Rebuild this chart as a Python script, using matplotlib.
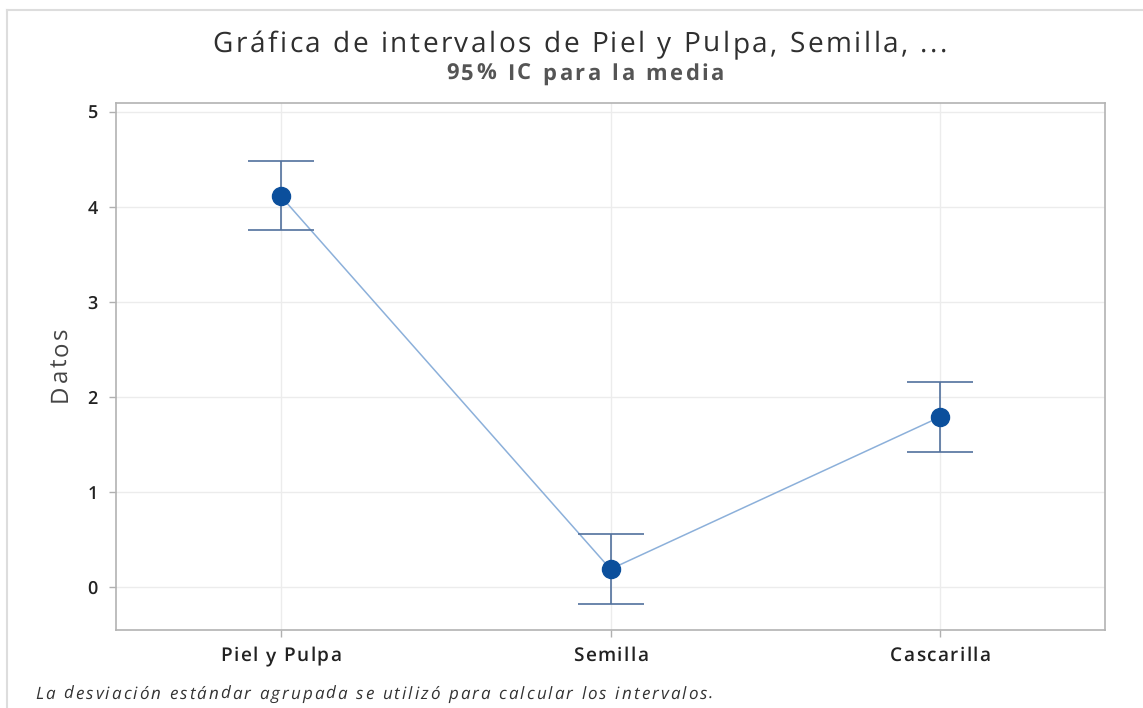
import matplotlib
matplotlib.use("Agg")
import matplotlib.pyplot as plt
from matplotlib.lines import Line2D
from matplotlib.font_manager import FontProperties, findfont, get_font
from matplotlib import ft2font

plt.rcParams['font.family'] = ['Open Sans', 'DejaVu Sans']
plt.rcParams['text.hinting'] = 'no_hinting'
plt.rcParams['text.hinting_factor'] = 1

categories = ["Piel y Pulpa", "Semilla", "Cascarilla"]
means = [4.11, 0.19, 1.79]
ci_low = [3.75, -0.18, 1.42]
ci_high = [4.48, 0.56, 2.16]
yticks = [0, 1, 2, 3, 4, 5]

title = "Gráfica de intervalos de Piel y Pulpa, Semilla, ..."
subtitle = "95% IC para la media"
ylabel = "Datos"
footnote = "La desviación estándar agrupada se utilizó para calcular los intervalos."

W, H, DPI = 1143, 708, 100
fig = plt.figure(figsize=(W / DPI, H / DPI), dpi=DPI)
ax = fig.add_axes([116 / W, 1 - 630 / H, (1105 - 116) / W, (630 - 103) / H])

try:
    NO_HINT = ft2font.LoadFlags.NO_HINTING
except AttributeError:
    NO_HINT = ft2font.LOAD_NO_HINTING


def advances(s, fp):
    font = get_font(findfont(fp))
    font.set_size(fp.get_size_in_points(), DPI)
    return [font.load_char(ord(c), flags=NO_HINT).linearHoriAdvance / 65536 for c in s]


def spaced_text(x, y, s, fp, color, track, ha="center", vertical=False):
    """Draw text with extra letter spacing; x, y in pixels from the top-left
    (baseline position), advancing right, or upward when vertical."""
    adv = advances(s, fp)
    total = sum(adv) + track * (len(s) - 1)
    start = (x if not vertical else y)
    if ha == "center":
        start = start - total / 2 if not vertical else start + total / 2
    pos = start
    for c, a in zip(s, adv):
        if c != " ":
            if vertical:
                fig.text(x / W, 1 - pos / H, c, fontproperties=fp, color=color,
                         ha="left", va="baseline", rotation=90, rotation_mode="anchor")
            else:
                fig.text(pos / W, 1 - y / H, c, fontproperties=fp, color=color,
                         ha="left", va="baseline")
        pos = pos + (a + track) if not vertical else pos - (a + track)


x = list(range(len(categories)))
err_lo = [m - l for m, l in zip(means, ci_low)]
err_hi = [h - m for m, h in zip(means, ci_high)]

ax.plot(x, means, color="#8cb0da", lw=1.1, zorder=2)
ax.errorbar(x, means, yerr=[err_lo, err_hi], fmt="none", ecolor="#52719d",
            elinewidth=1.2, capsize=23.5, capthick=1.2, zorder=3)
ax.plot(x, means, "o", color="#0b4f9c", ms=13, zorder=4)

ax.set_xlim(-0.5, 2.5)
ax.set_ylim(-0.45, 5.09)
ax.set_xticks(x)
ax.set_xticklabels([])
ax.set_yticks(yticks)
ax.set_yticklabels([str(t) for t in yticks], fontsize=13, fontweight="semibold", color="#222222")
ax.tick_params(axis="both", color="#b0b0b0", length=5, width=1)
ax.tick_params(axis="y", pad=8)
ax.grid(True, color="#ececec", lw=1)
ax.set_axisbelow(True)
for s in ax.spines.values():
    s.set_color("#b3b3b3")
    s.set_linewidth(1.2)

# category labels with letter spacing, placed through the data transform
fp_tick = FontProperties(family=["Open Sans"], size=13.5, weight="semibold")
for i, lab in enumerate(categories):
    px = ax.transData.transform((x[i], 0))[0]
    spaced_text(px, 661, lab, fp_tick, "#222222", 1.4)

fp_title = FontProperties(family=["Open Sans"], size=20, weight="medium")
spaced_text(580, 52, title, fp_title, "#2f2f2f", 2.5)

fp_sub = FontProperties(family=["Open Sans"], size=16, weight="bold")
spaced_text(585, 80, subtitle, fp_sub, "#555555", 2.6)

fp_ylab = FontProperties(family=["Open Sans"], size=17)
spaced_text(67, 365, ylabel, fp_ylab, "#444444", 2.2, vertical=True)

fp_foot = FontProperties(family=["Open Sans"], size=12.5, style="italic")
spaced_text(35, 699, footnote, fp_foot, "#333333", 2.05, ha="left")

# outer frame edges
fig.add_artist(Line2D([7 / W, 7 / W], [0, 1 - 10 / H], transform=fig.transFigure,
                      color="#dddddd", lw=1.5))
fig.add_artist(Line2D([7 / W, 1], [1 - 10 / H, 1 - 10 / H], transform=fig.transFigure,
                      color="#dddddd", lw=1.5))

fig.savefig("out.png", dpi=DPI)
